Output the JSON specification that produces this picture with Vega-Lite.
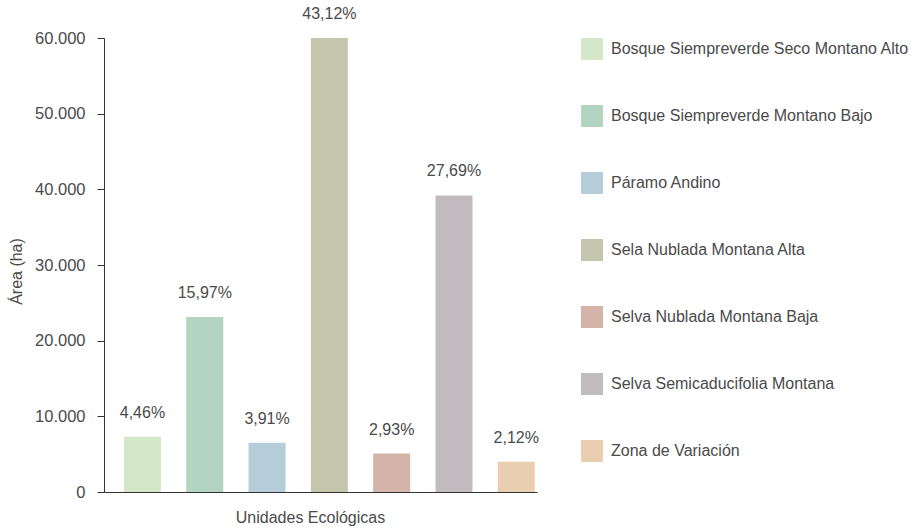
{
  "$schema": "https://vega.github.io/schema/vega-lite/v6.json",
  "autosize": {"type": "none"},
  "width": 433,
  "height": 454,
  "padding": {"left": 104, "top": 38, "right": 385, "bottom": 38},
  "config": {
    "font": "Liberation Sans",
    "view": {"stroke": null},
    "axis": {"labelFont": "Liberation Sans", "titleFont": "Liberation Sans", "labelColor": "#4a4a4a", "titleColor": "#4a4a4a", "titleFontWeight": "normal"},
    "legend": {"labelFont": "Liberation Sans"}
  },
  "data": {
    "values": [
      {"unidad": "Bosque Siempreverde Seco Montano Alto", "area": 7300, "pct": "4,46%"},
      {"unidad": "Bosque Siempreverde Montano Bajo", "area": 23120, "pct": "15,97%"},
      {"unidad": "Páramo Andino", "area": 6500, "pct": "3,91%"},
      {"unidad": "Sela Nublada Montana Alta", "area": 60000, "pct": "43,12%"},
      {"unidad": "Selva Nublada Montana Baja", "area": 5080, "pct": "2,93%"},
      {"unidad": "Selva Semicaducifolia Montana", "area": 39200, "pct": "27,69%"},
      {"unidad": "Zona de Variación", "area": 4010, "pct": "2,12%"}
    ]
  },
  "encoding": {
    "x": {
      "field": "unidad", "type": "nominal", "sort": null,
      "scale": {"paddingInner": 0.406, "paddingOuter": 0.178, "align": 0.9},
      "axis": {"title": "Unidades Ecológicas", "labels": false, "ticks": false, "domainColor": "#333", "titleFontSize": 16, "titlePadding": 17, "titleX": 206}
    },
    "y": {
      "field": "area", "type": "quantitative",
      "scale": {"domain": [0, 60000]},
      "axis": {"title": "Área (ha)", "values": [0, 10000, 20000, 30000, 40000, 50000, 60000], "format": ",.0f", "grid": false, "domainColor": "#333", "tickColor": "#333", "tickSize": 7, "labelPadding": 12, "labelFontSize": 16.5, "titleFontSize": 16, "titlePadding": 10, "titleY": 233, "labelExpr": "replace(datum.label, ',', '.')"}
    }
  },
  "layer": [
    {
      "mark": {"type": "bar"},
      "encoding": {
        "color": {
          "field": "unidad", "type": "nominal", "sort": null,
          "scale": {"range": ["#d4e8c9", "#b3d4c0", "#b5cdd9", "#c3c6ad", "#d4b4a8", "#c1babf", "#e9cfb0"]},
          "legend": {"title": null, "orient": "right", "offset": 44, "symbolType": "square", "symbolSize": 484, "symbolStrokeWidth": 0, "symbolOpacity": 1, "labelFontSize": 16, "labelColor": "#4a4a4a", "rowPadding": 45, "labelOffset": 8, "labelLimit": 400}
        }
      }
    },
    {
      "mark": {"type": "text", "dy": -24, "fontSize": 16, "color": "#4a4a4a", "baseline": "middle"},
      "encoding": {"text": {"field": "pct"}}
    }
  ]
}
